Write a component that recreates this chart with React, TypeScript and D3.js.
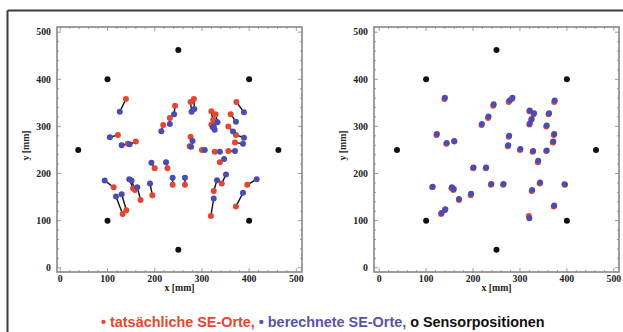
import React from "react";
import * as d3 from "d3";

// Sensor positions [mm]
const sensorX = [38, 100, 250, 400, 462, 400, 250, 100];
const sensorY = [250, 400, 462, 400, 250, 100, 38, 100];

// actual source positions (tatsächliche SE-Orte)
const actualX = [139, 122, 143, 160, 218, 232, 243, 276, 283, 320, 329, 324, 320, 373, 361, 356, 372, 370, 276, 274, 300, 327, 356, 338, 113, 132, 140, 154, 158, 170, 200, 227, 195, 238, 264, 325, 342, 319, 396, 372];
const actualY = [358, 282, 263, 268, 303, 318, 344, 352, 358, 332, 326, 314, 304, 352, 326, 300, 282, 266, 278, 258, 250, 246, 248, 224, 171, 114, 122, 169, 165, 144, 211, 211, 154, 176, 176, 163, 179, 110, 176, 130];

// computed positions, left panel (berechnete SE-Orte)
const calcLeftX = [126, 105, 130, 147, 214, 232, 241, 278, 284, 325, 333, 327, 323, 389, 372, 366, 389, 387, 280, 277, 306, 338, 370, 347, 94, 118, 130, 146, 151, 163, 193, 224, 190, 238, 264, 332, 351, 325, 416, 387];
const calcLeftY = [331, 277, 260, 262, 290, 305, 326, 331, 337, 300, 309, 293, 298, 330, 310, 289, 276, 263, 269, 257, 250, 246, 248, 231, 185, 151, 156, 188, 185, 171, 223, 224, 179, 191, 191, 186, 198, 147, 188, 159];

// computed positions, right panel
const calcRightX = [140, 123, 144, 160, 219, 233, 244, 278, 284, 321, 330, 325, 321, 374, 362, 357, 373, 371, 277, 275, 301, 328, 357, 339, 114, 133, 141, 155, 159, 170, 201, 228, 196, 239, 265, 326, 343, 320, 395, 373];
const calcRightY = [361, 284, 265, 269, 305, 321, 347, 355, 361, 334, 328, 316, 306, 355, 328, 302, 284, 268, 280, 260, 252, 248, 249, 227, 172, 116, 124, 171, 167, 146, 213, 213, 157, 178, 178, 165, 181, 105, 177, 132];

const majorTicks = [0, 100, 200, 300, 400, 500];
const minorTicks = d3.range(0, 501, 20);

const RED = "#e6462f";
const BLUE = "#4a4cb4";
const FRAME = "#8a8582";
const TICKFONT = "'Liberation Serif', 'Times New Roman', serif";

type PanelProps = {
  x0: number; x1: number; y0: number; y1: number;
  xDom: [number, number]; yDom: [number, number];
  calcX: number[]; calcY: number[]; lines: boolean;
};

function Panel({ x0, x1, y0, y1, xDom, yDom, calcX, calcY, lines }: PanelProps) {
  const xs = d3.scaleLinear().domain(xDom).range([x0, x1]);
  const ys = d3.scaleLinear().domain(yDom).range([y1, y0]);
  const r = 3;
  return (
    <g>
      <rect x={x0} y={y0} width={x1 - x0} height={y1 - y0} fill="white" stroke={FRAME} strokeWidth={1.6} />
      {minorTicks.map((t) => {
        const major = t % 100 === 0;
        const L = major ? 4 : 2;
        return (
          <g key={"t" + t} stroke={FRAME} strokeWidth={0.8}>
            <line x1={xs(t)} x2={xs(t)} y1={y1} y2={y1 - L} />
            <line x1={xs(t)} x2={xs(t)} y1={y0} y2={y0 + L} />
            <line x1={x0} x2={x0 + L} y1={ys(t)} y2={ys(t)} />
            <line x1={x1} x2={x1 - L} y1={ys(t)} y2={ys(t)} />
          </g>
        );
      })}
      {majorTicks.map((t) => (
        <text key={"xl" + t} x={xs(t)} y={y1 + 9.5} textAnchor="middle" fontFamily={TICKFONT} fontWeight="bold" fontSize={9.8} fill="#222">
          {t}
        </text>
      ))}
      {majorTicks.map((t) => (
        <text key={"yl" + t} x={x0 - 6} y={ys(t) + 3.3} textAnchor="end" fontFamily={TICKFONT} fontWeight="bold" fontSize={9.8} fill="#222">
          {t}
        </text>
      ))}
      <text x={(x0 + x1) / 2} y={y1 + 19} textAnchor="middle" fontFamily={TICKFONT} fontWeight="bold" fontSize={9.8} fill="#222">
        x [mm]
      </text>
      <text transform={`translate(${x0 - 28},${(y0 + y1) / 2 - 4}) rotate(-90)`} textAnchor="middle" fontFamily={TICKFONT} fontWeight="bold" fontSize={9.8} fill="#222">
        y [mm]
      </text>
      {lines &&
        actualX.map((_, i) => (
          <line key={"l" + i} x1={xs(actualX[i])} y1={ys(actualY[i])} x2={xs(calcX[i])} y2={ys(calcY[i])} stroke="#111" strokeWidth={1.4} />
        ))}
      {actualX.map((_, i) => (
        <circle key={"a" + i} cx={xs(actualX[i])} cy={ys(actualY[i])} r={r} fill={RED} />
      ))}
      {calcX.map((_, i) => (
        <circle key={"c" + i} cx={xs(calcX[i])} cy={ys(calcY[i])} r={r} fill={BLUE} />
      ))}
      {sensorX.map((_, i) => (
        <circle key={"s" + i} cx={xs(sensorX[i])} cy={ys(sensorY[i])} r={3} fill="#111" />
      ))}
    </g>
  );
}

export default function App() {
  const W = 623, H = 332;
  return (
    <svg width={W} height={H} style={{ position: "absolute", left: 0, top: 0, background: "white" }}>
      <rect x={0} y={0} width={W} height={H} fill="white" />
      <line x1={7.5} y1={10.5} x2={7.5} y2={H} stroke="#3c3c3c" strokeWidth={2} />
      <line x1={7.5} y1={10.5} x2={W} y2={10.5} stroke="#3c3c3c" strokeWidth={2} />
      <Panel x0={57} x1={302} y0={27} y1={272} xDom={[-7, 512]} yDom={[-9, 511]} calcX={calcLeftX} calcY={calcLeftY} lines={true} />
      <Panel x0={374} x1={619} y0={27} y1={272} xDom={[-11, 511]} yDom={[-9, 511]} calcX={calcRightX} calcY={calcRightY} lines={false} />
      <text x={101} y={327} fontFamily="'Liberation Sans', Arial, sans-serif" fontWeight="bold" fontSize={14.4}>
        <tspan fill={RED}>• tatsächliche SE-Orte,</tspan>
        <tspan fill="#5a52ac"> • berechnete SE-Orte,</tspan>
        <tspan fill="#111"> o Sensorpositionen</tspan>
      </text>
    </svg>
  );
}
